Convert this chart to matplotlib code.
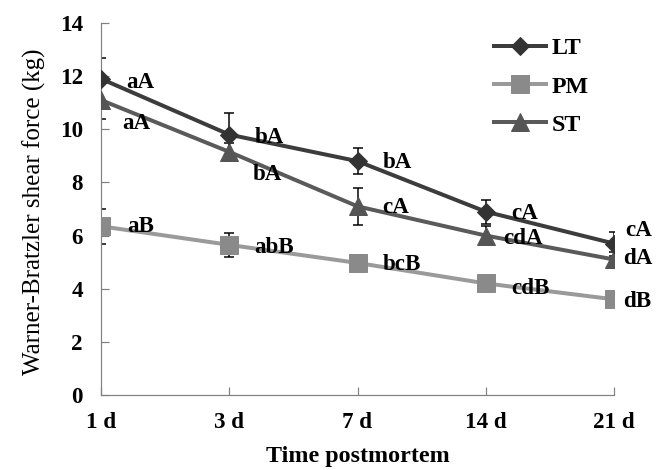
import matplotlib
matplotlib.use("Agg")
import matplotlib.pyplot as plt
from matplotlib.lines import Line2D

days = ["1 d", "3 d", "7 d", "14 d", "21 d"]
lt = [11.9, 9.8, 8.8, 6.9, 5.7]
lt_err = [0.8, 0.8, 0.5, 0.45, 0.45]
pm = [6.35, 5.65, 4.97, 4.2, 3.6]
pm_err = [0.65, 0.45, 0.3, 0.2, 0.25]
st = [11.1, 9.15, 7.1, 6.0, 5.1]
st_err = [0.7, 0.35, 0.7, 0.35, 0.3]
lt_lab = ["aA", "bA", "bA", "cA", "cA"]
pm_lab = ["aB", "abB", "bcB", "cdB", "dB"]
st_lab = ["aA", "bA", "cA", "cdA", "dA"]

plt.rcParams['font.family'] = ['Liberation Serif', 'DejaVu Serif']
DPI = 72
FS = 23
fig = plt.figure(figsize=(664 / DPI, 470 / DPI), dpi=DPI)
ax = fig.add_axes([101 / 664, 1 - 395 / 470, (614 - 101) / 664, (395 - 23) / 470])

x = list(range(len(days)))
series = [
    ("PM", pm, pm_err, pm_lab, "#9a9a9a", "#8a8a8a", "s", 18,
     [(26, 0), (25, -3), (25, -2), (26, -5), (9, -2)]),
    ("ST", st, st_err, st_lab, "#5a5a5a", "#555555", "^", 18,
     [(21, -23), (23, -23), (25, -1), (17, -3), (9, 1)]),
    ("LT", lt, lt_err, lt_lab, "#3c3c3c", "#333333", "D", 12.5,
     [(25, -4), (25, -3), (25, -1), (26, -2), (11, 13)]),
]
for name, vals, errs, labs, lc, mc, mk, ms, offs in series:
    ax.errorbar(x, vals, yerr=errs, fmt="none", ecolor="black",
                elinewidth=1.5, capsize=5, capthick=1.5, zorder=2)
    ax.plot(x, vals, color=lc, lw=4, marker=mk, markersize=ms,
            markerfacecolor=mc, markeredgecolor=mc, zorder=3)
    for xi, v, lab, (dx, dy) in zip(x, vals, labs, offs):
        ax.annotate(lab, (xi, v), xytext=(dx, dy), textcoords="offset points",
                    ha="left", va="center", fontsize=FS, fontweight="bold",
                    color="black", zorder=4)

ax.set_xlim(0, 4)
ax.set_ylim(0, 14)
ax.set_yticks(range(0, 15, 2))
ax.set_xticks(x)
ax.set_xticklabels(days)
for s in ["top", "right"]:
    ax.spines[s].set_visible(False)
for s in ["left", "bottom"]:
    ax.spines[s].set_color("#808080")
    ax.spines[s].set_linewidth(1.2)
ax.tick_params(axis="both", direction="in", length=8, width=1.2, color="#808080",
               labelsize=FS)
ax.tick_params(axis="y", pad=18)
ax.tick_params(axis="x", pad=17)
for t in ax.get_xticklabels() + ax.get_yticklabels():
    t.set_fontweight("bold")

ax.set_ylabel("Warner-Bratzler shear force (kg)", fontsize=25)
ax.yaxis.set_label_coords(-(101 - 46) / 513, (395 - 212) / 372)
ax.set_xlabel("Time postmortem", fontsize=24, fontweight="bold", labelpad=13)

handles = [
    Line2D([], [], color="#3c3c3c", lw=4, marker="D", markersize=12.5,
           markerfacecolor="#333333", markeredgecolor="#333333"),
    Line2D([], [], color="#9a9a9a", lw=4, marker="s", markersize=18,
           markerfacecolor="#8a8a8a", markeredgecolor="#8a8a8a"),
    Line2D([], [], color="#5a5a5a", lw=4, marker="^", markersize=18,
           markerfacecolor="#555555", markeredgecolor="#555555"),
]
leg = ax.legend(handles, ["LT", "PM", "ST"], loc="upper left",
                bbox_to_anchor=((472 - 101) / 513, 1 + (23 - 16) / 372),
                frameon=False, handlelength=2.2, handletextpad=0.2,
                labelspacing=0.68, prop={"size": 24, "weight": "bold"})

fig.savefig("out.png", dpi=DPI)
